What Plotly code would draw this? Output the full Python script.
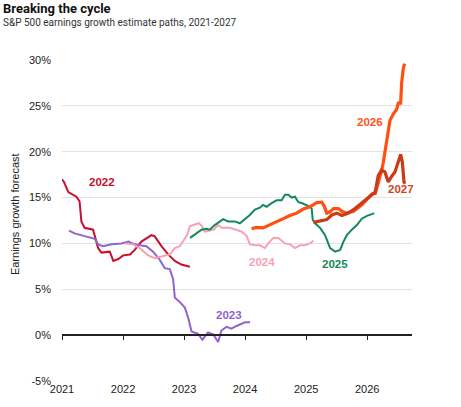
"""S&P 500 earnings growth estimate paths - one line per calendar year"""
import plotly.graph_objects as go

# estimate path for 2022 earnings (% growth)
dates_2022 = ["2021-01-01", "2021-01-13", "2021-02-08", "2021-03-28", "2021-04-16", "2021-04-27",
              "2021-05-16", "2021-07-06", "2021-08-05", "2021-08-25", "2021-10-14", "2021-11-04",
              "2021-12-04", "2022-01-02", "2022-02-12", "2022-03-12", "2022-04-21", "2022-06-20",
              "2022-07-09", "2022-08-19", "2022-09-28", "2022-11-07", "2022-12-16", "2023-02-05"]
vals_2022 = [17.0, 16.7, 15.6, 15.1, 14.6, 12.4, 11.7, 11.5, 9.5, 9.0, 9.1, 8.1,
             8.3, 8.7, 8.8, 9.3, 10.2, 10.9, 10.8, 9.7, 8.8, 8.1, 7.7, 7.45]

dates_2023 = ["2021-02-12", "2021-03-18", "2021-05-16", "2021-07-16", "2021-08-05", "2021-09-04",
              "2021-10-25", "2021-12-23", "2022-02-02", "2022-03-12", "2022-04-11", "2022-05-21",
              "2022-06-30", "2022-08-09", "2022-09-08", "2022-10-08", "2022-10-28", "2022-11-07",
              "2022-12-07", "2023-01-06", "2023-01-26", "2023-02-15", "2023-03-26", "2023-04-21",
              "2023-05-25", "2023-06-24", "2023-07-24", "2023-08-13", "2023-09-12", "2023-10-12",
              "2023-11-11", "2023-12-11", "2024-01-01", "2024-01-31"]
vals_2023 = [11.4, 11.1, 10.8, 10.5, 9.9, 9.7, 9.9, 10.0, 10.2, 9.9, 9.8, 9.7,
             9.1, 8.2, 7.3, 7.2, 6.1, 4.1, 3.6, 3.0, 1.9, 0.4, 0.15, -0.5,
             0.3, 0.1, -0.75, 0.5, 0.9, 0.7, 1.0, 1.2, 1.4, 1.4]

dates_2024 = ["2022-01-13", "2022-03-03", "2022-04-11", "2022-05-31", "2022-07-10", "2022-08-29",
              "2022-10-08", "2022-11-07", "2022-12-07", "2023-01-01", "2023-01-19", "2023-02-06",
              "2023-03-07", "2023-03-31", "2023-04-18", "2023-05-05", "2023-06-04", "2023-06-28",
              "2023-07-24", "2023-08-15", "2023-10-02", "2023-11-11", "2023-12-11", "2024-01-11",
              "2024-01-30", "2024-02-29", "2024-03-30", "2024-04-29", "2024-05-19", "2024-06-18",
              "2024-07-18", "2024-08-27", "2024-09-26", "2024-10-26", "2024-11-25", "2024-12-25",
              "2025-01-24", "2025-02-13"]
vals_2024 = [10.0, 9.9, 9.5, 8.7, 8.4, 8.6, 8.8, 9.5, 9.7, 10.4, 10.9, 11.9,
             12.1, 12.2, 11.9, 11.3, 11.4, 11.5, 12.0, 11.7, 11.7, 11.5, 11.3, 10.8,
             9.9, 9.8, 9.8, 9.5, 10.0, 10.6, 10.6, 10.0, 9.9, 9.5, 9.8, 9.8,
             10.0, 10.3]

dates_2025 = ["2023-02-06", "2023-03-17", "2023-04-16", "2023-05-16", "2023-06-04", "2023-07-04",
              "2023-08-03", "2023-08-23", "2023-09-22", "2023-11-01", "2023-12-01", "2024-01-01",
              "2024-01-30", "2024-02-29", "2024-03-30", "2024-04-18", "2024-05-09", "2024-06-08",
              "2024-07-08", "2024-08-07", "2024-08-27", "2024-09-16", "2024-10-06", "2024-10-26",
              "2024-11-15", "2024-12-05", "2025-01-04", "2025-01-24", "2025-02-03", "2025-02-09",
              "2025-02-23", "2025-03-25", "2025-04-24", "2025-05-24", "2025-06-23", "2025-07-23",
              "2025-08-12", "2025-09-01", "2025-10-01", "2025-10-31", "2025-11-30", "2025-12-30",
              "2026-01-29", "2026-02-12"]
vals_2025 = [10.6, 11.1, 11.5, 11.6, 11.5, 12.0, 12.4, 12.65, 12.4, 12.4, 12.2, 12.7,
             13.1, 13.7, 13.9, 14.2, 14.0, 14.4, 14.7, 14.7, 15.3, 15.3, 15.0, 15.1,
             14.5, 14.4, 14.2, 14.0, 13.8, 12.6, 12.2, 11.7, 10.9, 9.5, 9.1, 9.3,
             10.2, 10.9, 11.5, 12.0, 12.7, 13.0, 13.2, 13.3]

dates_2026 = ["2024-02-09", "2024-03-10", "2024-04-18", "2024-05-28", "2024-07-08", "2024-08-17",
              "2024-09-26", "2024-11-05", "2024-12-15", "2025-01-24", "2025-03-05", "2025-04-04",
              "2025-04-18", "2025-05-04", "2025-05-24", "2025-06-13", "2025-07-13", "2025-08-02",
              "2025-09-01", "2025-10-11", "2025-11-30", "2025-12-30", "2026-01-29", "2026-02-18",
              "2026-03-08", "2026-03-28", "2026-04-07", "2026-04-17", "2026-04-27", "2026-05-07",
              "2026-05-17", "2026-06-06", "2026-06-26", "2026-07-06", "2026-07-20", "2026-07-26",
              "2026-08-05", "2026-08-13"]
vals_2026 = [11.6, 11.75, 11.7, 12.0, 12.4, 12.7, 13.05, 13.3, 13.75, 14.0, 14.45, 14.5,
             14.1, 13.3, 13.45, 13.8, 13.8, 13.5, 13.3, 13.5, 14.2, 14.8, 15.4, 15.45,
             16.5, 17.9, 18.8, 20.0, 21.3, 22.3, 23.4, 24.1, 24.6, 25.3, 25.3, 27.5,
             29.1, 29.6]

dates_2027 = ["2025-02-13", "2025-03-25", "2025-05-04", "2025-06-03", "2025-07-03", "2025-08-02",
              "2025-09-10", "2025-10-20", "2025-11-30", "2025-12-30", "2026-02-07", "2026-02-18",
              "2026-03-08", "2026-03-28", "2026-04-17", "2026-05-07", "2026-05-27", "2026-06-16",
              "2026-07-06", "2026-07-20", "2026-07-30", "2026-08-09", "2026-08-15"]
vals_2027 = [12.3, 12.45, 12.6, 13.1, 13.3, 13.05, 13.3, 13.8, 14.4, 14.9, 15.5, 15.6,
             17.4, 18.0, 17.8, 16.7, 17.3, 17.8, 18.9, 19.7, 18.9, 16.7, 16.5]

x_ticks = ["2021-01-01", "2022-01-01", "2023-01-01", "2024-01-01", "2025-01-01", "2026-01-01"]
x_tick_labels = ["2021", "2022", "2023", "2024", "2025", "2026"]
y_ticks = [-5, 0, 5, 10, 15, 20, 25, 30]
y_tick_labels = ["-5%", "0%", "5%", "10%", "15%", "20%", "25%", "30%"]

# line label: (text, x, y, colour)
labels = [
    ("2022", "2021-08-27", 16.7, "#c8102e"),
    ("2023", "2023-09-26", 2.2, "#9063cd"),
    ("2024", "2024-04-11", 8.0, "#f7a1b5"),
    ("2025", "2025-06-23", 7.8, "#12895a"),
    ("2026", "2026-01-18", 23.2, "#ff5219"),
    ("2027", "2026-07-22", 15.9, "#cf4420"),
]

series = [
    (dates_2022, vals_2022, "#c8102e", 2),
    (dates_2023, vals_2023, "#9063cd", 2),
    (dates_2024, vals_2024, "#f7a1b5", 2),
    (dates_2025, vals_2025, "#12895a", 2),
    (dates_2026, vals_2026, "#ff4f12", 3.2),
    (dates_2027, vals_2027, "#c93c15", 3.2),
]

PW, PH = 350, 324  # plot box in px

fig = go.Figure()
for xs, ys, col, w in series:
    fig.add_trace(go.Scatter(x=xs, y=ys, mode="lines", line=dict(color=col, width=w),
                             hoverinfo="skip", showlegend=False))

# empty trace so the zero-line axis (x2) gets drawn
fig.add_trace(go.Scatter(x=[x_ticks[0]], y=[0], xaxis="x2", mode="lines",
                         showlegend=False, hoverinfo="skip"))

for txt, lx, ly, col in labels:
    fig.add_annotation(x=lx, y=ly, text="<b>" + txt + "</b>", showarrow=False,
                       font=dict(family="Liberation Sans, Arial", size=11.5, color=col))

fig.add_annotation(xref="paper", yref="paper", x=-47 / PW, y=0.52, text="Earnings growth forecast",
                   textangle=-90, showarrow=False, xanchor="center", yanchor="middle",
                   font=dict(family="Liberation Sans, Arial", size=11, color="#222"))
fig.add_annotation(xref="paper", yref="paper", x=-61 / PW, y=1 + 52 / PH,
                   text="<b>Breaking the cycle</b>", showarrow=False, xanchor="left", yanchor="middle",
                   font=dict(family="Roboto", size=13, color="#111"))
fig.add_annotation(xref="paper", yref="paper", x=-61 / PW, y=1 + 38 / PH,
                   text="S&P 500 earnings growth estimate paths, 2021-2027", showarrow=False,
                   xanchor="left", yanchor="middle",
                   font=dict(family="Roboto", size=10, color="#333"))

fig.update_layout(
    width=461, height=407,
    margin=dict(l=62, r=49, t=60, b=23),
    plot_bgcolor="white", paper_bgcolor="white",
    xaxis=dict(range=["2021-01-01", "2026-09-26"], tickvals=x_ticks, ticktext=x_tick_labels,
               showgrid=False, zeroline=False, showline=False, ticks="",
               tickfont=dict(family="Liberation Sans, Arial", size=11, color="#222")),
    xaxis2=dict(overlaying="x", matches="x", anchor="free", position=5 / 35,
                showline=True, linecolor="#222", linewidth=1.5, ticks="outside", ticklen=4,
                tickcolor="#222", tickwidth=1.3, tickvals=x_ticks, showticklabels=False,
                showgrid=False, zeroline=False),
    yaxis=dict(range=[-5, 30], tickvals=y_ticks, ticktext=y_tick_labels,
               showgrid=True, gridcolor="#e3e3e3", gridwidth=1, zeroline=False, showline=False,
               ticklabelstandoff=10,
               tickfont=dict(family="Liberation Sans, Arial", size=11, color="#222")),
)

# drop the browser's default 8px body margin so the figure sits at the page corner
fig.write_html("out.html", config={"displayModeBar": False},
               post_script="document.body.style.margin = '0';")
